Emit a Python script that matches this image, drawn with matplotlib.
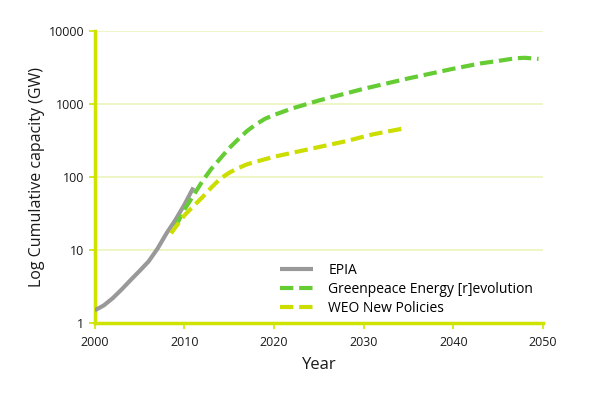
import matplotlib
matplotlib.use("Agg")
import matplotlib.pyplot as plt
import numpy as np

plt.rcParams['font.family'] = ['Open Sans', 'DejaVu Sans']

# Data
epia_years = [2000, 2001, 2002, 2003, 2004, 2005, 2006, 2007, 2008, 2009, 2010, 2011]
epia_vals = [1.5, 1.75, 2.2, 2.9, 3.9, 5.2, 7.0, 10.5, 17, 26, 42, 72]

gp_years = [2009, 2010, 2011, 2012, 2013, 2014, 2015, 2016, 2017, 2018, 2019, 2020,
            2022, 2025, 2030, 2035, 2040, 2043, 2045, 2047, 2048, 2049.5]
gp_vals = [21, 36, 56, 88, 130, 180, 250, 330, 430, 530, 630, 710,
           870, 1120, 1620, 2250, 3050, 3600, 3900, 4250, 4300, 4150]

weo_years = [2008.5, 2010, 2011, 2012, 2013, 2014, 2015, 2016, 2017, 2018, 2020,
             2022, 2025, 2028, 2031, 2034.3]
weo_vals = [17, 30, 40, 53, 72, 95, 115, 133, 150, 163, 190,
            215, 258, 310, 385, 460]

x_ticks = [2000, 2010, 2020, 2030, 2040, 2050]
y_ticks = [1, 10, 100, 1000, 10000]
y_labels = ['1', '10', '100', '1000', '10000']

axis_color = '#cfe300'
grid_color = '#ebf5bd'

fig = plt.figure(figsize=(6, 3.98), dpi=100)
ax = fig.add_axes([0.158, 0.188, 0.747, 0.734])

ax.plot(epia_years, epia_vals, color='#999999', lw=3.0, label='EPIA', solid_capstyle='butt', zorder=3)
ax.plot(gp_years, gp_vals, color='#66cc33', lw=3.0, ls=(0, (3.2, 1.4)), label='Greenpeace Energy [r]evolution', zorder=4)
ax.plot(weo_years, weo_vals, color='#ccdd00', lw=3.0, ls=(0, (3.2, 1.4)), label='WEO New Policies', zorder=4)

ax.set_yscale('log')
ax.set_xlim(2000, 2050)
ax.set_ylim(1, 10000)
ax.set_xticks(x_ticks)
ax.set_xticklabels([str(t) for t in x_ticks])
ax.set_yticks(y_ticks)
ax.set_yticklabels(y_labels)
ax.yaxis.set_minor_locator(matplotlib.ticker.NullLocator())

ax.grid(True, axis='y', color=grid_color, lw=1.2)
ax.set_axisbelow(True)
for s in ['top', 'right']:
    ax.spines[s].set_visible(False)
for s in ['left', 'bottom']:
    ax.spines[s].set_color(axis_color)
    ax.spines[s].set_linewidth(2.5)
ax.tick_params(axis='both', colors=axis_color, length=4, width=1.2, labelsize=9, labelcolor='#1a1a1a')
ax.tick_params(axis='x', pad=5)

ax.set_xlabel('Year', fontsize=12, color='#1a1a1a', labelpad=6)
ax.set_ylabel('Log Cumulative capacity (GW)', fontsize=11.5, color='#1a1a1a', labelpad=3)

leg = ax.legend(loc='upper left', bbox_to_anchor=(0.40, 0.225), frameon=False, fontsize=10,
                handlelength=2.4, handletextpad=1.1, labelspacing=0.3, borderaxespad=0)

fig.savefig('out.png', dpi=100, facecolor='white')
